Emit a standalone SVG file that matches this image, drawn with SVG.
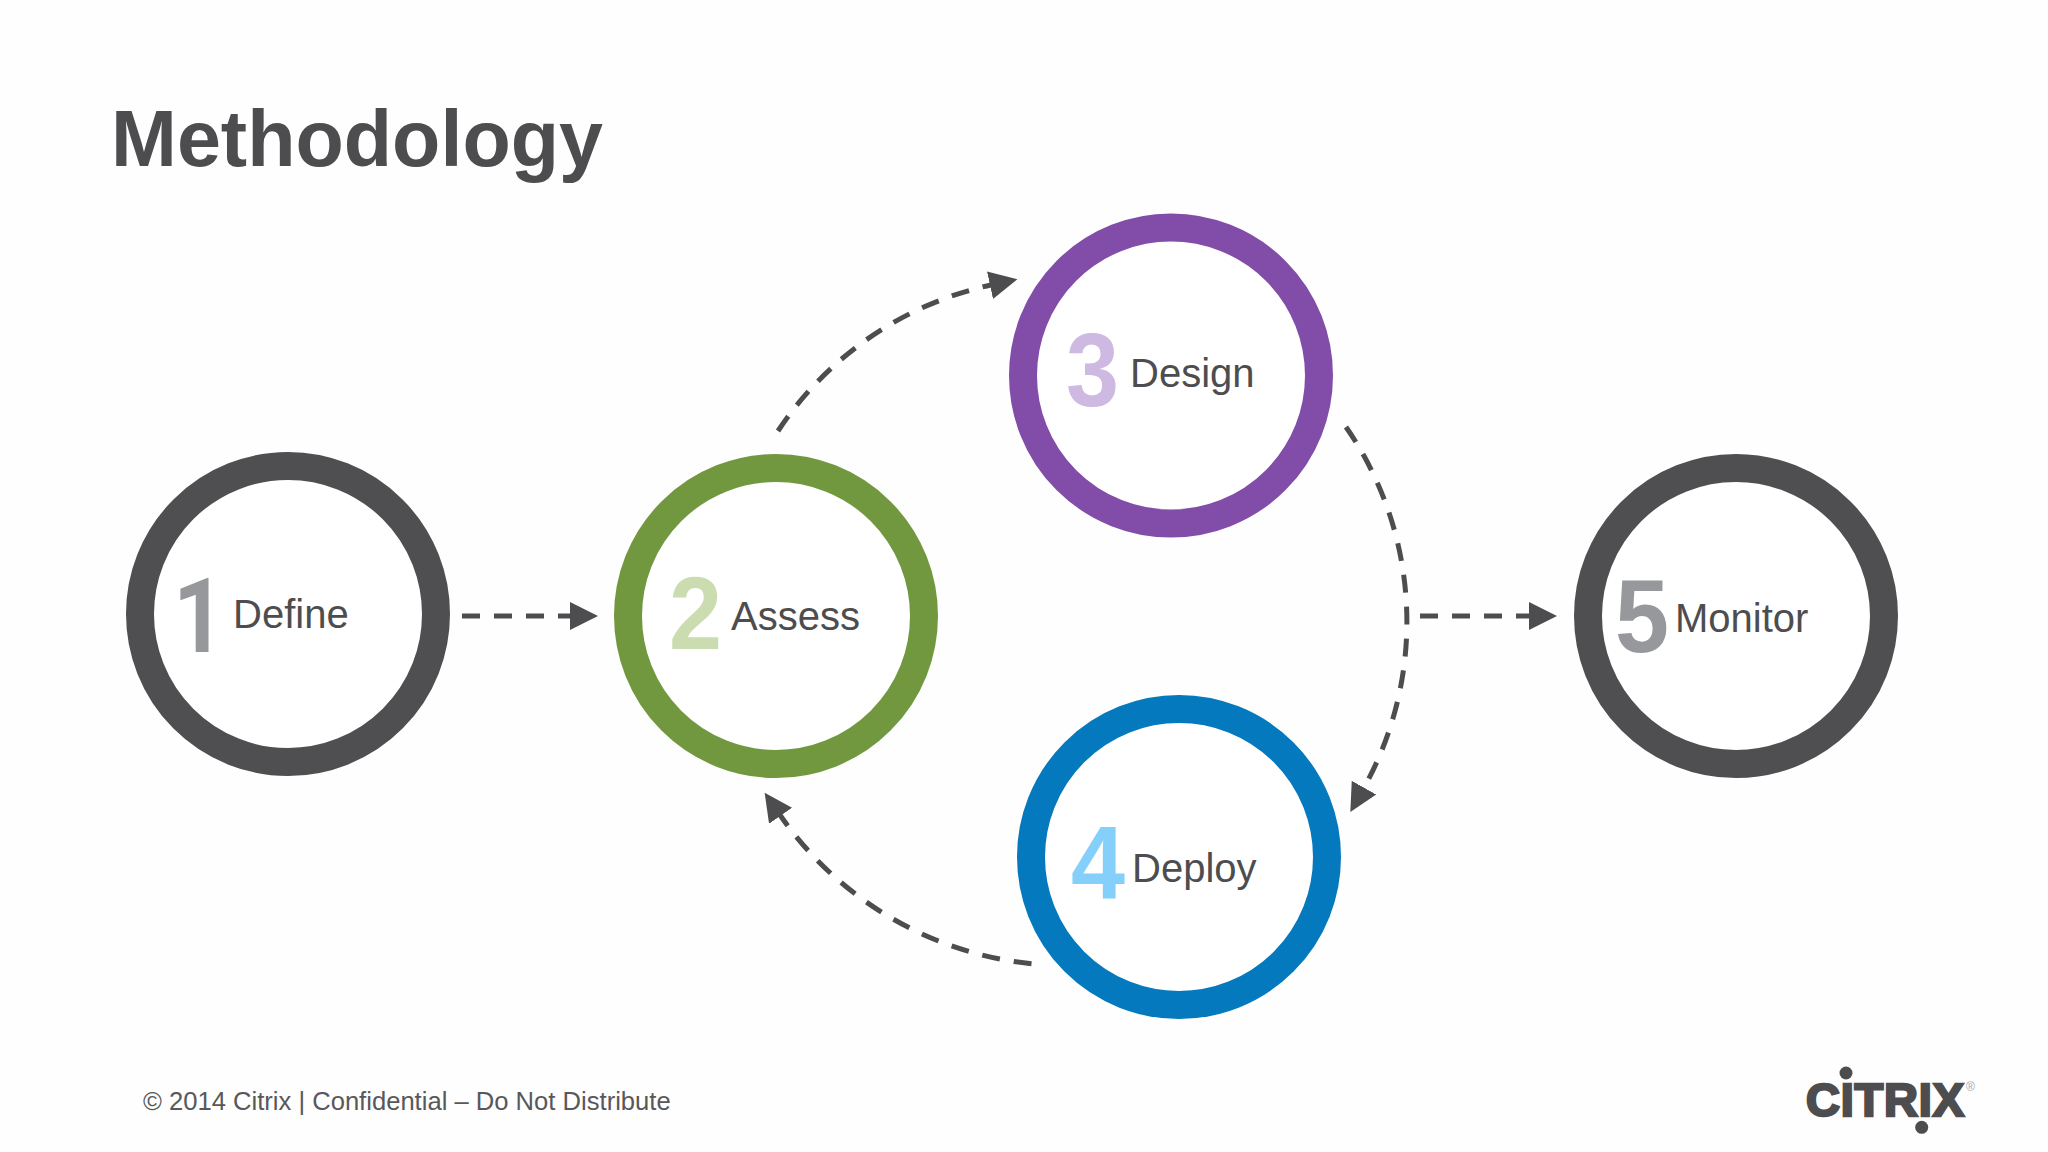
<svg xmlns="http://www.w3.org/2000/svg" width="2048" height="1152" viewBox="0 0 2048 1152">
<style>
text{font-family:"Liberation Sans",Arial,sans-serif}
.ring{fill:#fff;stroke-width:28}
.lbl{font-size:40px;fill:#4d4d4f}
.num{font-size:104px;font-weight:700}
.grey{fill:#97989b}
.conn{fill:none;stroke:#4d4d4f;stroke-width:5;stroke-dasharray:18 14}
</style>
<defs>
<marker id="head" markerUnits="userSpaceOnUse" markerWidth="30" markerHeight="30" refX="1" refY="15" orient="auto">
<path d="M0 1L28 15L0 29Z" fill="#4d4d4f"/>
</marker>
</defs>
<rect width="2048" height="1152" fill="#fefefe"/>
<text id="title" x="111" y="166" font-size="79" font-weight="700" fill="#4d4d4f" textLength="492" lengthAdjust="spacingAndGlyphs">Methodology</text>
<g id="connectors">
<path class="conn" marker-end="url(#head)" d="M462 616H571"/>
<path class="conn" marker-end="url(#head)" d="M778 431A342 342 0 0 1 991 285"/>
<path class="conn" marker-end="url(#head)" d="M1346 427A342 342 0 0 1 1363.500 788.500"/>
<path class="conn" marker-end="url(#head)" d="M1031.500 963.700A349 349 0 0 1 780 815"/>
<path class="conn" marker-end="url(#head)" d="M1420 616H1530"/>
</g>
<g id="node1">
<circle class="ring" cx="288" cy="614" r="148" stroke="#4f4f51"/>
<text class="grey" x="173" y="652" font-size="104" font-weight="700" style="font-family:Roboto,sans-serif" textLength="52" lengthAdjust="spacingAndGlyphs">1</text>
<text class="lbl" x="233" y="628">Define</text>
</g>
<g id="node2">
<circle class="ring" cx="776" cy="616" r="148" stroke="#72983f"/>
<text class="num" x="669" y="649" fill="#cbddb0" textLength="53" lengthAdjust="spacingAndGlyphs">2</text>
<text class="lbl" x="731" y="630">Assess</text>
</g>
<g id="node3">
<circle class="ring" cx="1171" cy="375.500" r="148" stroke="#824da9"/>
<text class="num" x="1066" y="406" fill="#cdb9e1" textLength="53" lengthAdjust="spacingAndGlyphs">3</text>
<text class="lbl" x="1130" y="387">Design</text>
</g>
<g id="node4">
<circle class="ring" cx="1179" cy="857" r="148" stroke="#0479bd"/>
<text class="num" x="1071" y="899" fill="#85d0fb" textLength="54" lengthAdjust="spacingAndGlyphs">4</text>
<text class="lbl" x="1132" y="882">Deploy</text>
</g>
<g id="node5">
<circle class="ring" cx="1736" cy="616" r="148" stroke="#4f4f51"/>
<text class="num grey" x="1615" y="652" textLength="54" lengthAdjust="spacingAndGlyphs">5</text>
<text class="lbl" x="1675" y="632">Monitor</text>
</g>
<text id="footer" x="143" y="1110" font-size="25.600" fill="#58585a">© 2014 Citrix | Confidential – Do Not Distribute</text>
<g id="logo" fill="#4d4d4f">
<text x="1806" y="1116" font-size="47" font-weight="700" stroke="#4d4d4f" stroke-width="2.500" textLength="158" lengthAdjust="spacing">CITRIX</text>
<circle cx="1846" cy="1073" r="6.500"/>
<circle cx="1921.700" cy="1127.300" r="6.500"/>
<text x="1966" y="1091" font-size="12" fill="#a5a5a7">®</text>
</g>
</svg>
